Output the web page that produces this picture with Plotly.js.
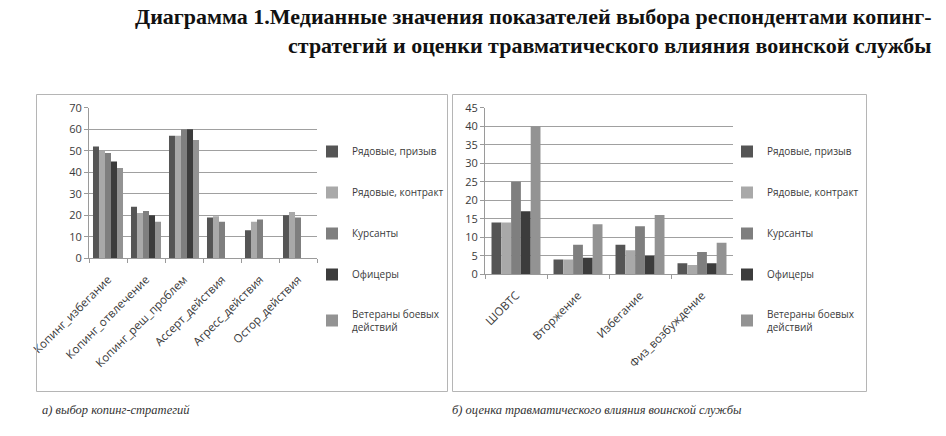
<!DOCTYPE html>
<html>
<head>
<meta charset="utf-8">
<script src="https://cdn.plot.ly/plotly-3.0.1.min.js"></script>
<style>html,body{margin:0;padding:0;background:#fff}#chart{width:946px;height:436px}</style>
</head>
<body>
<div id="chart"></div>
<script>
// ---- data ----
const seriesNames = ["Рядовые, призыв", "Рядовые, контракт", "Курсанты", "Офицеры", "Ветераны боевых<br>действий"];
const seriesColors = ["#555555", "#a9a9a9", "#7f7f7f", "#3c3c3c", "#939393"];

const copingCats = ["Копинг_избегание", "Копинг_отвлечение", "Копинг_реш_проблем", "Ассерт_действия", "Агресс_действия", "Остор_действия"];
const copingPrizyv   = [52, 24, 57, 19, 13, 20];
const copingKontrakt = [50, 21, 57, 19.5, 17, 21.5];
const copingKursanty = [49, 22, 60, 17, 18, 19];
const copingOfitsery = [45, 20, 60, null, null, null];
const copingVeterany = [42, 17, 55, null, null, null];

const traumaCats = ["ШОВТС", "Вторжение", "Избегание", "Физ_возбуждение"];
const traumaPrizyv   = [14, 4, 8, 3];
const traumaKontrakt = [14, 4, 6.5, 2.5];
const traumaKursanty = [25, 8, 13, 6];
const traumaOfitsery = [17, 4.5, 5, 3];
const traumaVeterany = [40, 13.5, 16, 8.5];

const copingTicks = [0, 10, 20, 30, 40, 50, 60, 70];
const traumaTicks = [0, 5, 10, 15, 20, 25, 30, 35, 40, 45];

const titleText = "Диаграмма 1.Медианные значения показателей выбора респондентами копинг-<br>стратегий и оценки травматического влияния воинской службы";
const captionA = "а) выбор копинг-стратегий";
const captionB = "б) оценка травматического влияния воинской службы";

// ---- build ----
const W = 946, H = 436;
const px = v => v / W, py = v => 1 - v / H;

const copingData = [copingPrizyv, copingKontrakt, copingKursanty, copingOfitsery, copingVeterany];
const traumaData = [traumaPrizyv, traumaKontrakt, traumaKursanty, traumaOfitsery, traumaVeterany];

const traces = [];
copingData.forEach((vals, i) => traces.push({
  type: "bar", x: copingCats, y: vals, name: seriesNames[i],
  marker: {color: seriesColors[i]}, xaxis: "x", yaxis: "y",
  legend: "legend", legendgroup: "a" + i, hoverinfo: "y"
}));
traumaData.forEach((vals, i) => traces.push({
  type: "bar", x: traumaCats, y: vals, name: seriesNames[i],
  marker: {color: seriesColors[i]}, xaxis: "x2", yaxis: "y2",
  legend: "legend2", legendgroup: "b" + i, hoverinfo: "y"
}));

const xTickFont = {family: "Open Sans, Liberation Sans, sans-serif", size: 11.5, color: "#3a3a3a"};
const yTickFont = {family: "Open Sans, Liberation Sans, sans-serif", size: 11, color: "#3a3a3a"};
const legFont = {family: "Open Sans, Liberation Sans, sans-serif", size: 10, color: "#3a3a3a"};

const xCommon = {
  type: "category", tickangle: -45, tickfont: xTickFont, ticklabelstandoff: 9,
  showline: true, linecolor: "#9a9a9a", linewidth: 1,
  ticks: "outside", ticklen: 4, tickcolor: "#9a9a9a", tickson: "boundaries",
  showgrid: false, zeroline: false, fixedrange: true
};
const yCommon = {
  tickfont: yTickFont, showline: true, linecolor: "#9a9a9a", linewidth: 1,
  ticks: "outside", ticklen: 4, tickcolor: "#9a9a9a",
  showgrid: true, gridcolor: "#a0a0a0", gridwidth: 1, zeroline: false, fixedrange: true
};

const layout = {
  width: W, height: H,
  margin: {l: 0, r: 0, t: 0, b: 0},
  paper_bgcolor: "#ffffff", plot_bgcolor: "#ffffff",
  barmode: "group", bargap: 0.21, bargroupgap: 0,
  showlegend: true,
  xaxis: Object.assign({}, xCommon, {domain: [px(89), px(317)], anchor: "y"}),
  yaxis: Object.assign({}, yCommon, {domain: [py(258.3), py(107.7)], range: [0, 70], tickvals: copingTicks, anchor: "x"}),
  xaxis2: Object.assign({}, xCommon, {domain: [px(485), px(733)], anchor: "y2"}),
  yaxis2: Object.assign({}, yCommon, {domain: [py(274.3), py(107.7)], range: [0, 45], tickvals: traumaTicks, anchor: "x2"}),
  legend: {x: px(312), y: py(137), xanchor: "left", yanchor: "top", font: legFont,
           tracegroupgap: 22, itemwidth: 30, bgcolor: "rgba(0,0,0,0)", traceorder: "grouped"},
  legend2: {x: px(727), y: py(137), xanchor: "left", yanchor: "top", font: legFont,
            tracegroupgap: 22, itemwidth: 30, bgcolor: "rgba(0,0,0,0)", traceorder: "grouped"},
  shapes: [
    {type: "rect", xref: "paper", yref: "paper", x0: px(36.5), x1: px(447.5), y0: py(391.5), y1: py(94.5),
     line: {color: "#b5b5b5", width: 1}},
    {type: "rect", xref: "paper", yref: "paper", x0: px(452.5), x1: px(866.5), y0: py(391.5), y1: py(94.5),
     line: {color: "#b5b5b5", width: 1}}
  ],
  annotations: [
    {text: titleText, xref: "paper", yref: "paper", x: px(934), y: py(2), xanchor: "right", yanchor: "top",
     align: "right", showarrow: false,
     font: {family: "Liberation Serif, Times New Roman, serif", size: 22, color: "#111111", weight: "bold"}},
    {text: "<i>" + captionA + "</i>", xref: "paper", yref: "paper", x: px(40), y: py(410), xanchor: "left", yanchor: "middle",
     showarrow: false, font: {family: "Liberation Serif, serif", size: 12.5, color: "#333333"}},
    {text: "<i>" + captionB + "</i>", xref: "paper", yref: "paper", x: px(450), y: py(410), xanchor: "left", yanchor: "middle",
     showarrow: false, font: {family: "Liberation Serif, serif", size: 12.5, color: "#333333"}}
  ]
};

Plotly.newPlot("chart", traces, layout, {staticPlot: true, displayModeBar: false});
</script>
</body>
</html>
